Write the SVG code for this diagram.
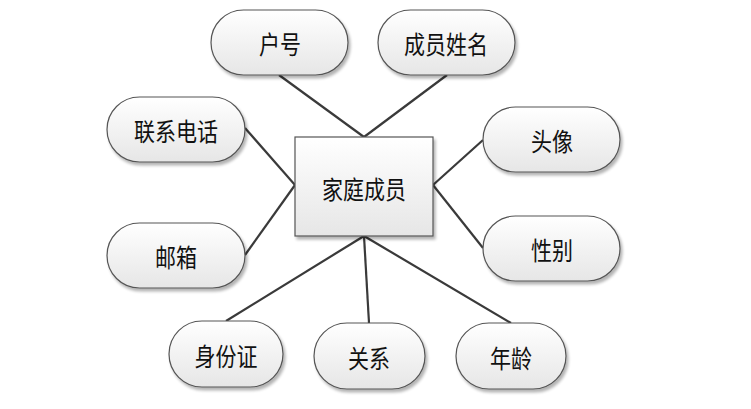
<svg xmlns="http://www.w3.org/2000/svg" width="751" height="409" viewBox="0 0 751 409">
<defs>
<linearGradient id="g" x1="0" y1="0" x2="0" y2="1">
<stop offset="0" stop-color="#ffffff"/>
<stop offset="1" stop-color="#e6e6e6"/>
</linearGradient>
<filter id="sh" x="-10%" y="-10%" width="130%" height="140%">
<feGaussianBlur in="SourceAlpha" stdDeviation="1.5"/>
<feOffset dx="2" dy="3" result="b"/>
<feComponentTransfer><feFuncA type="linear" slope="0.3"/></feComponentTransfer>
<feMerge><feMergeNode/><feMergeNode in="SourceGraphic"/></feMerge>
</filter>
</defs>
<style>
.n{fill:url(#g);stroke:#555;stroke-width:1.2;filter:url(#sh)}
.t{font-family:"Noto Sans CJK SC","Liberation Sans",sans-serif;font-size:21px;fill:#111;text-anchor:middle}
.c{stroke:#3a3a3a;stroke-width:2.2;fill:none}
</style>
<rect width="751" height="409" fill="#fff"/>
<g id="connectors">
<line class="c" x1="279" y1="75" x2="364" y2="137"/>
<line class="c" x1="447" y1="75" x2="364" y2="137"/>
<line class="c" x1="245" y1="128" x2="295" y2="185"/>
<line class="c" x1="245" y1="255" x2="295" y2="185"/>
<line class="c" x1="483" y1="140" x2="433" y2="185"/>
<line class="c" x1="483" y1="248" x2="433" y2="185"/>
<line class="c" x1="364" y1="236" x2="226" y2="321"/>
<line class="c" x1="364" y1="236" x2="369" y2="323"/>
<line class="c" x1="364" y1="236" x2="511" y2="323"/>
</g>
<g id="center">
<rect class="n" x="295" y="137" width="138" height="99"/>
<text class="t" transform="translate(364,199) scale(1,1.2)">家庭成员</text>
</g>
<g id="huhao">
<rect class="n" x="211" y="10" width="137" height="65" rx="32.5"/>
<text class="t" transform="translate(280,54) scale(1,1.2)">户号</text>
</g>
<g id="xingming">
<rect class="n" x="378" y="10" width="137" height="65" rx="32.5"/>
<text class="t" transform="translate(446,54) scale(1,1.2)">成员姓名</text>
</g>
<g id="dianhua">
<rect class="n" x="107" y="97" width="138" height="65" rx="32.5"/>
<text class="t" transform="translate(176,141) scale(1,1.2)">联系电话</text>
</g>
<g id="youxiang">
<rect class="n" x="107" y="223" width="138" height="65" rx="32.5"/>
<text class="t" transform="translate(176,267) scale(1,1.2)">邮箱</text>
</g>
<g id="touxiang">
<rect class="n" x="483" y="107" width="137" height="65" rx="32.5"/>
<text class="t" transform="translate(552,151) scale(1,1.2)">头像</text>
</g>
<g id="xingbie">
<rect class="n" x="483" y="216" width="137" height="65" rx="32.5"/>
<text class="t" transform="translate(552,260) scale(1,1.2)">性别</text>
</g>
<g id="shenfenzheng">
<rect class="n" x="169" y="321" width="114" height="66" rx="33"/>
<text class="t" transform="translate(226,366) scale(1,1.2)">身份证</text>
</g>
<g id="guanxi">
<rect class="n" x="314" y="323" width="111" height="66" rx="33"/>
<text class="t" transform="translate(369,368) scale(1,1.2)">关系</text>
</g>
<g id="nianling">
<rect class="n" x="456" y="323" width="110" height="66" rx="33"/>
<text class="t" transform="translate(511,368) scale(1,1.2)">年龄</text>
</g>
</svg>
